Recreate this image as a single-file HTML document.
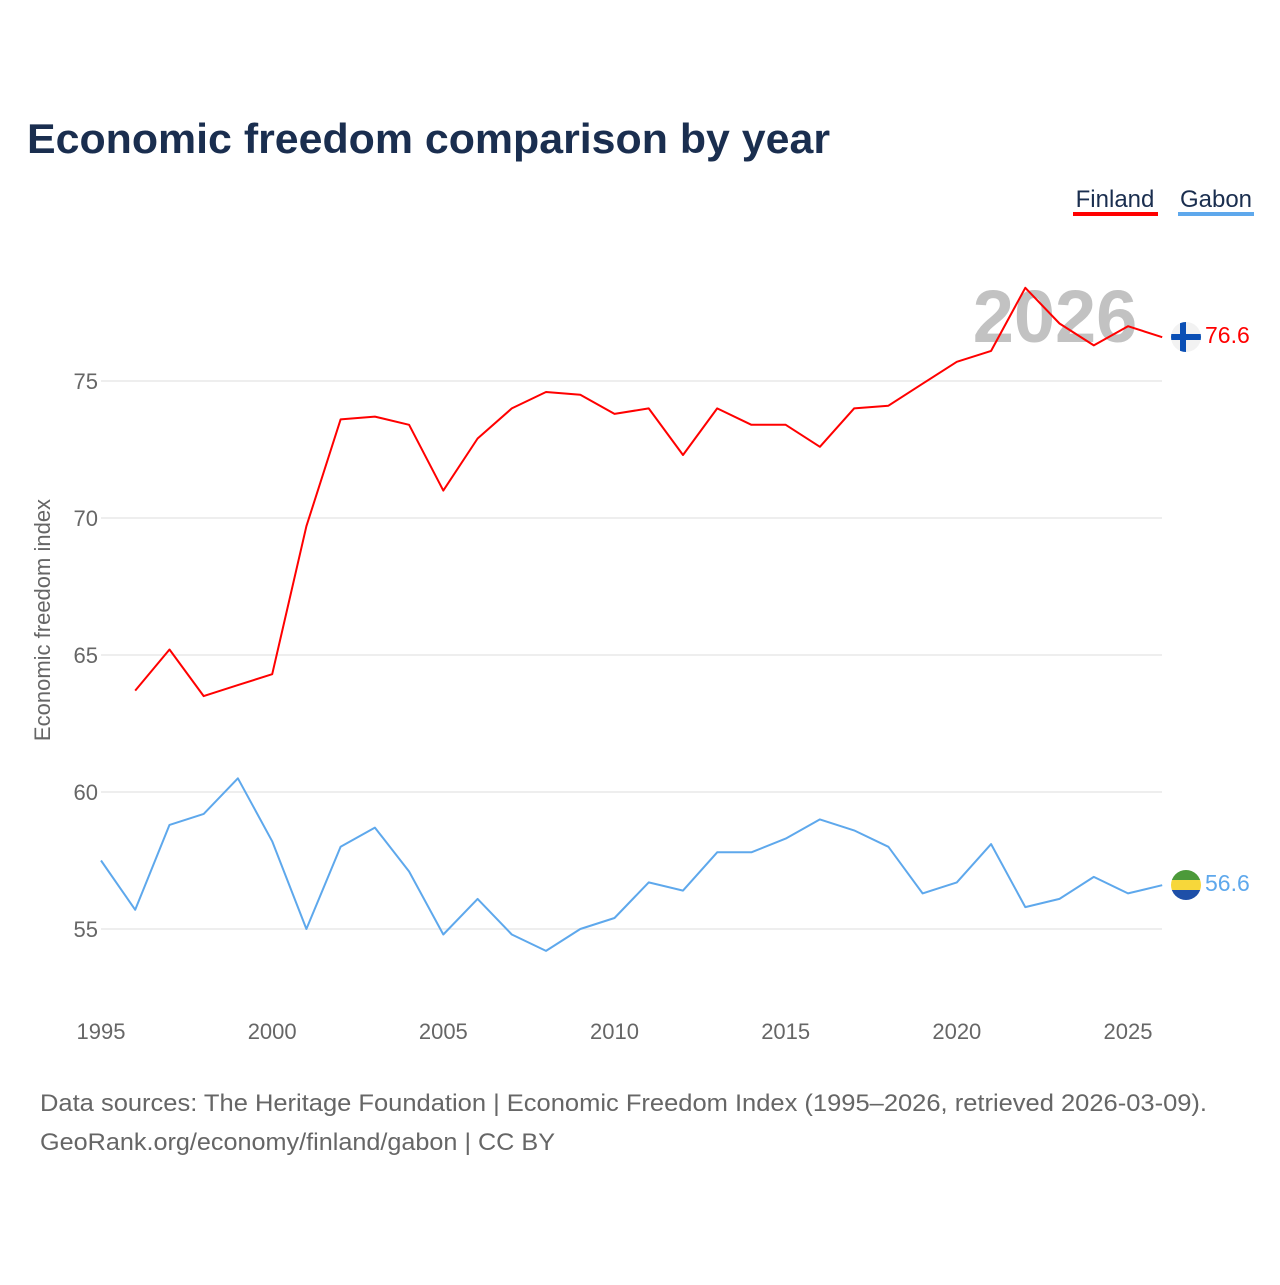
<!DOCTYPE html>
<html><head><meta charset="utf-8"><style>
body{margin:0;background:#fff;width:1280px;height:1280px;overflow:hidden;font-family:"Liberation Sans",sans-serif}
</style></head><body>
<svg width="1280" height="1280" xmlns="http://www.w3.org/2000/svg">
<text x="27" y="153" font-size="42" font-weight="bold" fill="#1a2e4f" textLength="803" lengthAdjust="spacingAndGlyphs">Economic freedom comparison by year</text>
<g>
<text x="1115" y="207" font-size="24" fill="#1a2e4f" text-anchor="middle">Finland</text>
<rect x="1073" y="212" width="85" height="4" fill="#ff0000"/>
<text x="1216" y="207" font-size="24" fill="#1a2e4f" text-anchor="middle">Gabon</text>
<rect x="1178" y="212" width="76" height="4" fill="#5ea8ec"/>
</g>
<text x="1055" y="342" font-size="74" font-weight="bold" fill="#c2c2c2" text-anchor="middle">2026</text>
<g id="grid"></g><g id="xt"></g><g id="lines"></g>
<text transform="translate(50,620) rotate(-90)" font-size="22" fill="#666" text-anchor="middle">Economic freedom index</text>
<g>
<clipPath id="cf"><circle cx="1186" cy="337" r="15"/></clipPath>
<g clip-path="url(#cf)"><rect x="1170" y="321" width="32" height="32" fill="#f2f2f2"/><rect x="1170" y="334" width="32" height="6" fill="#0a4fb5"/><rect x="1180" y="321" width="6" height="32" fill="#0a4fb5"/></g></g>
<g>
<clipPath id="cg"><circle cx="1186" cy="885" r="15"/></clipPath>
<g clip-path="url(#cg)"><rect x="1170" y="869" width="32" height="11" fill="#4c9a3a"/><rect x="1170" y="880" width="32" height="10" fill="#f7d73a"/><rect x="1170" y="890" width="32" height="12" fill="#1e4fa8"/></g></g>
<text x="1205" y="343" font-size="23" fill="#ff0000">76.6</text>
<text x="1205" y="891" font-size="23" fill="#5ea8ec">56.6</text>
<text x="40" y="1111" font-size="24" fill="#666" textLength="1167" lengthAdjust="spacingAndGlyphs">Data sources: The Heritage Foundation | Economic Freedom Index (1995–2026, retrieved 2026-03-09).</text>
<text x="40" y="1150" font-size="24" fill="#666" textLength="515" lengthAdjust="spacingAndGlyphs">GeoRank.org/economy/finland/gabon | CC BY</text>
</svg>
<script>
const years=[1995,1996,1997,1998,1999,2000,2001,2002,2003,2004,2005,2006,2007,2008,2009,2010,2011,2012,2013,2014,2015,2016,2017,2018,2019,2020,2021,2022,2023,2024,2025,2026];
const finland=[null,63.7,65.2,63.5,63.9,64.3,69.7,73.6,73.7,73.4,71.0,72.9,74.0,74.6,74.5,73.8,74.0,72.3,74.0,73.4,73.4,72.6,74.0,74.1,74.9,75.7,76.1,78.4,77.1,76.3,77.0,76.6];
const gabon=[57.5,55.7,58.8,59.2,60.5,58.2,55.0,58.0,58.7,57.1,54.8,56.1,54.8,54.2,55.0,55.4,56.7,56.4,57.8,57.8,58.3,59.0,58.6,58.0,56.3,56.7,58.1,55.8,56.1,56.9,56.3,56.6];
const yTicks=[55,60,65,70,75];
const xTicks=[1995,2000,2005,2010,2015,2020,2025];
const NS="http://www.w3.org/2000/svg";
const xs=y=>101+(y-1995)*(1027/30);
const ys=v=>929-(v-55)*(548/20);
function mk(t,a,p){const e=document.createElementNS(NS,t);for(const k in a)e.setAttribute(k,a[k]);p.appendChild(e);return e;}
const grid=document.getElementById('grid');
yTicks.forEach(v=>{
const l=mk('line',{x1:101,x2:1162,y1:ys(v),y2:ys(v),stroke:'#e8e8e8','stroke-width':1.5},grid);


const t=mk('text',{x:98,y:ys(v)+8,'font-size':22,fill:'#666','text-anchor':'end'},grid);
t.textContent=v;


});
const xt=document.getElementById('xt');
xTicks.forEach(v=>{
const t=mk('text',{x:xs(v),y:1039,'font-size':22,fill:'#666','text-anchor':'middle'},xt);
t.textContent=v;


});
const lines=document.getElementById('lines');
function line(data,color,name){
const pts=[];data.forEach((v,i)=>{if(v!=null)pts.push(xs(years[i]).toFixed(1)+','+ys(v).toFixed(1));});
const p=mk('polyline',{points:pts.join(' '),fill:'none',stroke:color,'stroke-width':2,'stroke-linejoin':'round'},lines);


}
line(finland,'#ff0000','finland-line');
line(gabon,'#5ea8ec','gabon-line');
</script>
</body></html>
